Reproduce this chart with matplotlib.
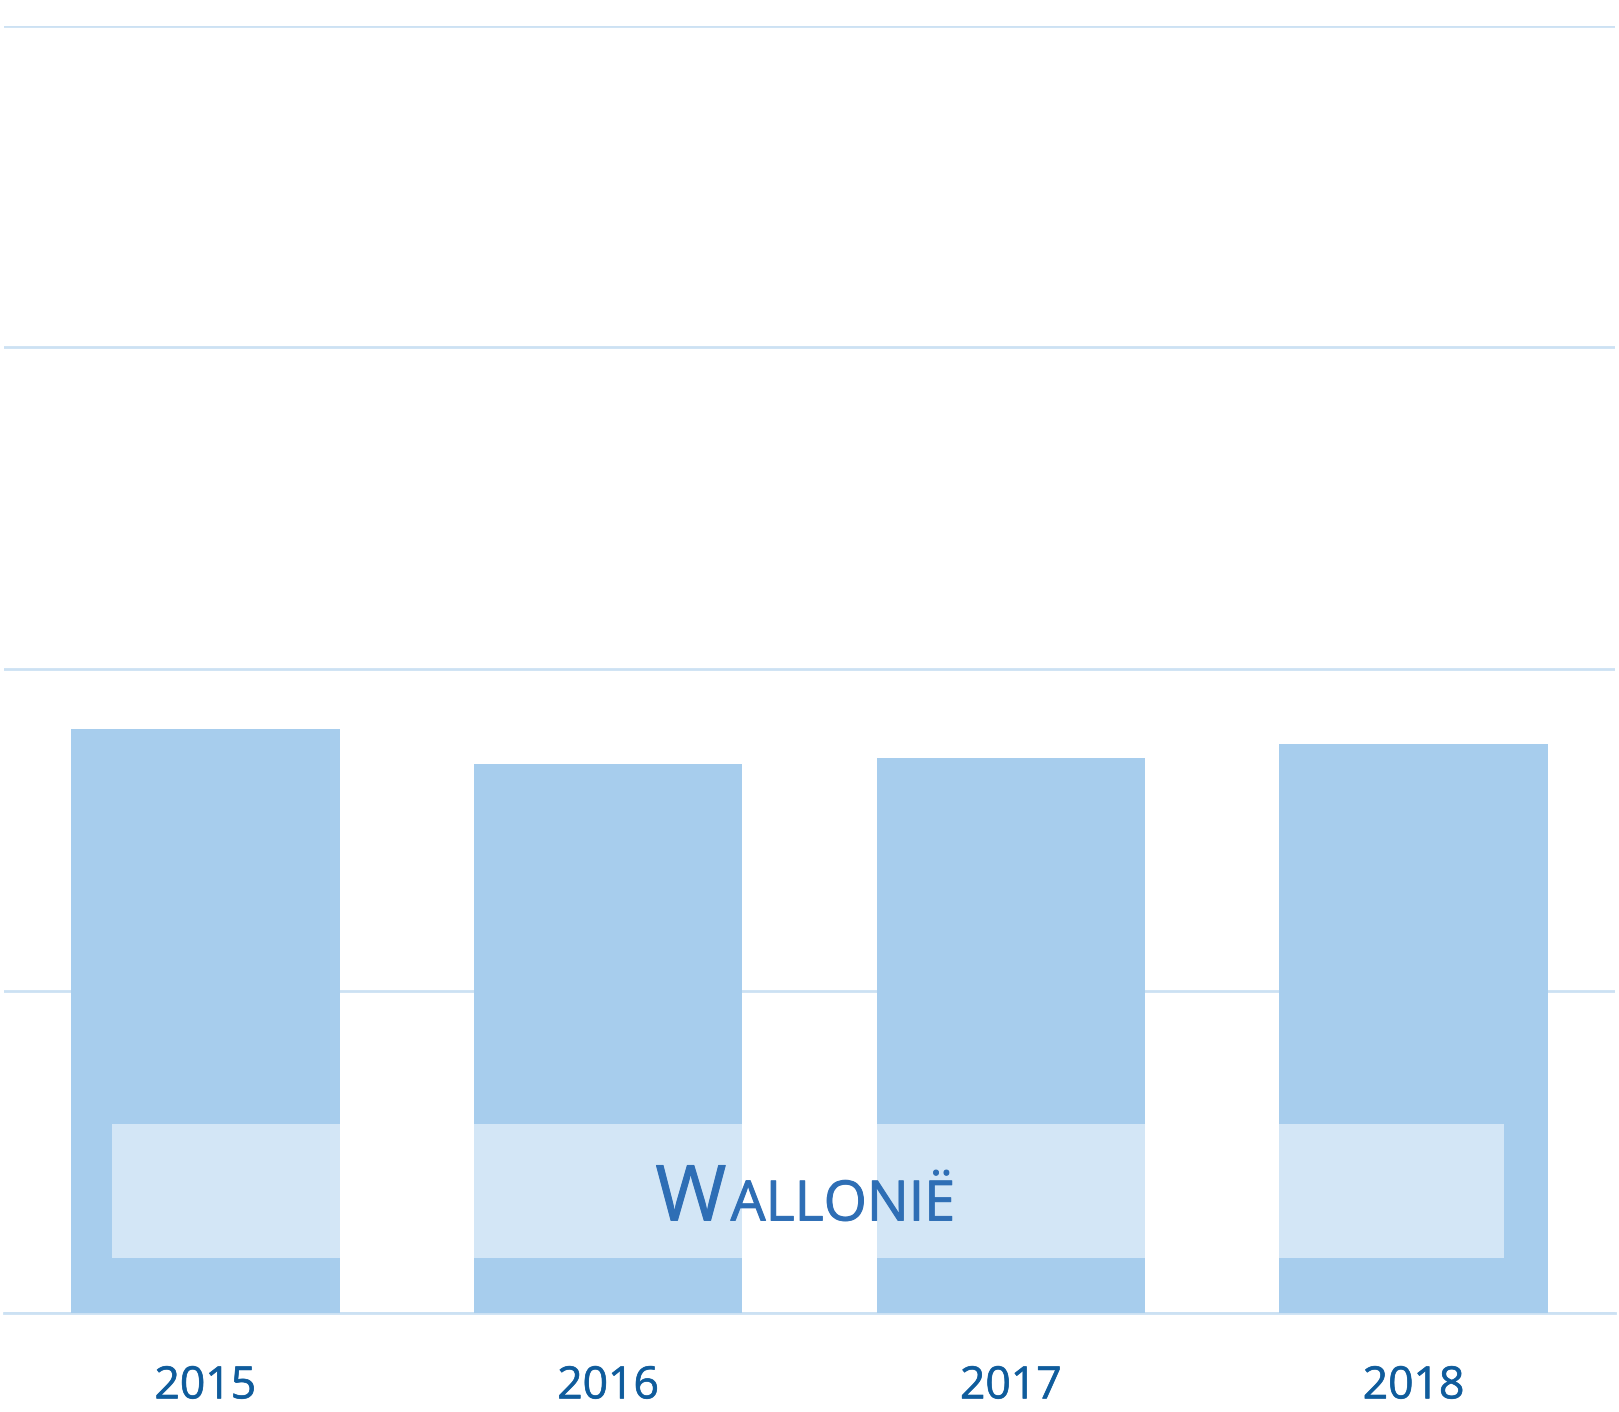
"""Wallonië bar chart, 2015-2018."""

import matplotlib
matplotlib.use("Agg")
import matplotlib.pyplot as plt
import matplotlib.patheffects as pe
from matplotlib.patches import Rectangle

years = ["2015", "2016", "2017", "2018"]
values = [18.15, 17.07, 17.25, 17.70]
grid_levels = [0, 10, 20, 30, 40]
region = "Wallonië"

bar_color = "#A7CDED"
grid_color = "#CCE1F3"
label_color = "#0F5C9C"
title_color = "#2E6EB5"

plt.rcParams['font.family'] = ['Open Sans', 'DejaVu Sans']

fig = plt.figure(figsize=(16.19, 14.12), dpi=100)
ax = fig.add_axes([0.00247, 0.0698, 0.99506, 0.91214])

x = range(len(years))
ax.bar(x, values, width=0.667, color=bar_color, linewidth=0, zorder=2)

ax.set_xlim(-0.5, len(years) - 0.5)
ax.set_ylim(grid_levels[0], grid_levels[-1])
ax.set_yticks(grid_levels)
ax.yaxis.grid(True, color=grid_color, linewidth=2, zorder=0)
ax.set_axisbelow(True)
ax.tick_params(axis='y', left=False, labelleft=False)
ax.tick_params(axis='x', length=0, pad=37, labelsize=32, labelcolor=label_color)
ax.set_xticks(list(x))
labels = ax.set_xticklabels(years)
# slightly heavier strokes, closer to the original font
for lab in labels:
    lab.set_path_effects([pe.withStroke(linewidth=0.5, foreground=label_color)])
for s in ax.spines.values():
    s.set_visible(False)
ax.axhline(0, color=grid_color, linewidth=2, zorder=1, clip_on=False)

# half-transparent white title box over the bars
ax.add_patch(Rectangle((0.067, 0.0433), 0.864, 0.1037, transform=ax.transAxes,
                       facecolor='white', alpha=0.5, edgecolor='none', zorder=3))

# small caps title
upper = region.upper()
heavy = [pe.withStroke(linewidth=0.7, foreground=title_color)]
ax.text(0.4485, 0.0722, upper[0], transform=ax.transAxes, ha='right', va='baseline',
        fontsize=55.5, color=title_color, zorder=4, path_effects=heavy)
ax.text(0.4510, 0.0722, upper[1:], transform=ax.transAxes, ha='left', va='baseline',
        fontsize=40, color=title_color, zorder=4, path_effects=heavy)

fig.savefig("out.png", dpi=100)
